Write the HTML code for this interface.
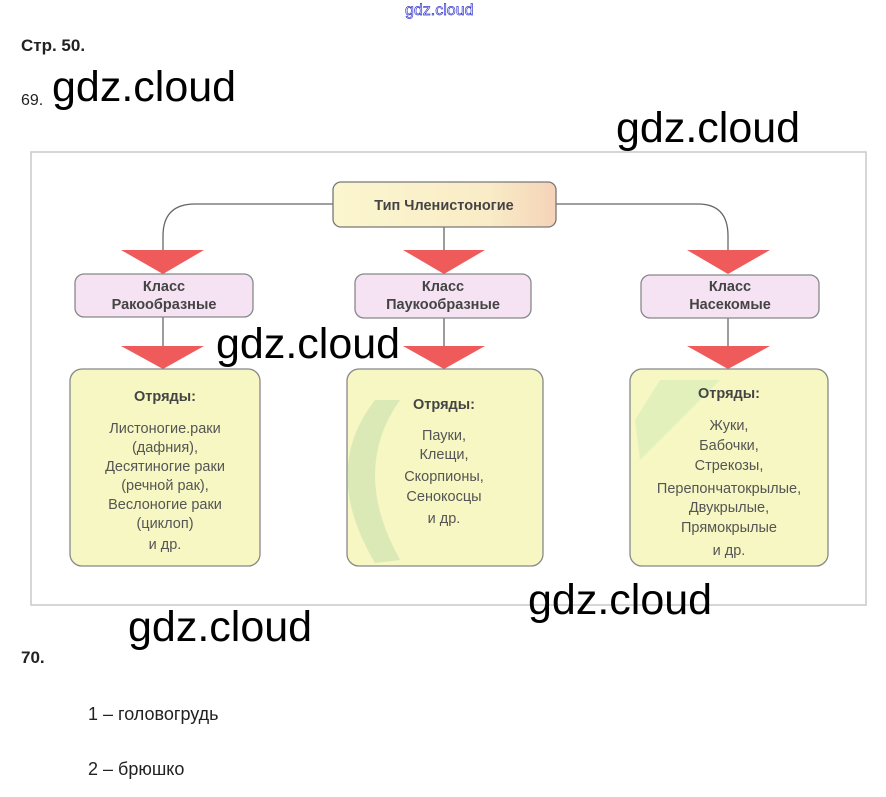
<!DOCTYPE html>
<html><head><meta charset="utf-8"><style>
html,body{margin:0;padding:0;background:#fff;width:886px;height:797px;overflow:hidden;position:relative;font-family:"Liberation Sans",sans-serif}
.a{position:absolute;white-space:nowrap}
.wm{position:absolute;font-family:"Liberation Sans",sans-serif;font-size:43px;color:#000;line-height:1;white-space:nowrap}
</style></head><body>
<svg class="a" style="left:0;top:0" width="886" height="797" viewBox="0 0 886 797">
<rect x="31" y="152" width="835" height="453" fill="#fff" stroke="#c8c8c8" stroke-width="1.5"/>
<g fill="none" stroke="#666" stroke-width="1.3">
<path d="M333 204 H195 Q163 204 163 236 V252"/>
<path d="M556 204 H698 Q728 204 728 236 V252"/>
<line x1="444" y1="227" x2="444" y2="252"/>
<line x1="163" y1="317" x2="163" y2="347"/>
<line x1="444" y1="317" x2="444" y2="347"/>
<line x1="728" y1="318" x2="728" y2="347"/>
</g>
<g fill="#ef5a5a">
<polygon points="121,250 204,250 163,274"/>
<polygon points="403,250 485,250 444,274"/>
<polygon points="687,250 770,250 728,274"/>
<polygon points="121,346 204,346 163,369"/>
<polygon points="403,346 485,346 444,369"/>
<polygon points="687,346 770,346 728,369"/>
</g>
<defs><linearGradient id="t" x1="0" y1="0" x2="1" y2="0"><stop offset="0" stop-color="#fbf6cf"/><stop offset="0.7" stop-color="#f9ecc6"/><stop offset="1" stop-color="#f5d3b8"/></linearGradient></defs>
<rect x="333" y="182" width="223" height="45" rx="8" fill="url(#t)" stroke="#777" stroke-width="1.3"/>
<g fill="#f5e2f2" stroke="#888" stroke-width="1.3">
<rect x="75" y="274" width="178" height="43" rx="9"/>
<rect x="355" y="274" width="176" height="44" rx="9"/>
<rect x="641" y="275" width="178" height="43" rx="9"/>
</g>
<g fill="#f6f7c2" stroke="#888" stroke-width="1.3">
<rect x="70" y="369" width="190" height="197" rx="12"/>
<rect x="347" y="369" width="196" height="197" rx="12"/>
<rect x="630" y="369" width="198" height="197" rx="12"/>
</g>
<path d="M400 400 Q350 470 400 560 L375 563 Q320 470 375 400 Z" fill="#cfe3b0" opacity="0.7"/>
<path d="M660 380 L720 380 L640 460 L635 420 Z" fill="#d6ecb8" opacity="0.6"/>
<g font-family="Liberation Sans, sans-serif" font-weight="bold" font-size="14.5" fill="#444" text-anchor="middle">
<text x="444" y="210">Тип Членистоногие</text>
<text x="164" y="291">Класс</text><text x="164" y="309">Ракообразные</text>
<text x="443" y="291">Класс</text><text x="443" y="309">Паукообразные</text>
<text x="730" y="291">Класс</text><text x="730" y="309">Насекомые</text>
<text x="165" y="401">Отряды:</text>
<text x="444" y="409">Отряды:</text>
<text x="729" y="398">Отряды:</text>
</g>
<g font-family="Liberation Sans, sans-serif" font-size="14.5" fill="#555" text-anchor="middle">
<text x="165" y="433">Листоногие.раки</text>
<text x="165" y="452">(дафния),</text>
<text x="165" y="471">Десятиногие раки</text>
<text x="165" y="490">(речной рак),</text>
<text x="165" y="509">Веслоногие раки</text>
<text x="165" y="528">(циклоп)</text>
<text x="165" y="549">и др.</text>
<text x="444" y="440">Пауки,</text>
<text x="444" y="459">Клещи,</text>
<text x="444" y="481">Скорпионы,</text>
<text x="444" y="501">Сенокосцы</text>
<text x="444" y="523">и др.</text>
<text x="729" y="430">Жуки,</text>
<text x="729" y="450">Бабочки,</text>
<text x="729" y="470">Стрекозы,</text>
<text x="729" y="493">Перепончатокрылые,</text>
<text x="729" y="512">Двукрылые,</text>
<text x="729" y="532">Прямокрылые</text>
<text x="729" y="555">и др.</text>
</g>
</svg>
<div class="a" style="left:405px;top:2px;font-size:16px;color:#fff;-webkit-text-stroke:0.7px #3a3ad0">gdz.cloud</div>
<div class="a" style="left:21px;top:36px;font-size:17px;font-weight:bold;color:#222">Стр. 50.</div>
<div class="a" style="left:21px;top:92px;font-size:16px;color:#222">69.</div>
<div class="wm" style="left:52px;top:66px">gdz.cloud</div>
<div class="wm" style="left:616px;top:107px">gdz.cloud</div>
<div class="wm" style="left:216px;top:323px">gdz.cloud</div>
<div class="wm" style="left:528px;top:579px">gdz.cloud</div>
<div class="wm" style="left:128px;top:606px">gdz.cloud</div>
<div class="a" style="left:21px;top:648px;font-size:17px;font-weight:bold;color:#222">70.</div>
<div class="a" style="left:88px;top:704px;font-size:18px;color:#222">1 – головогрудь</div>
<div class="a" style="left:88px;top:759px;font-size:18px;color:#222">2 – брюшко</div>
</body></html>
